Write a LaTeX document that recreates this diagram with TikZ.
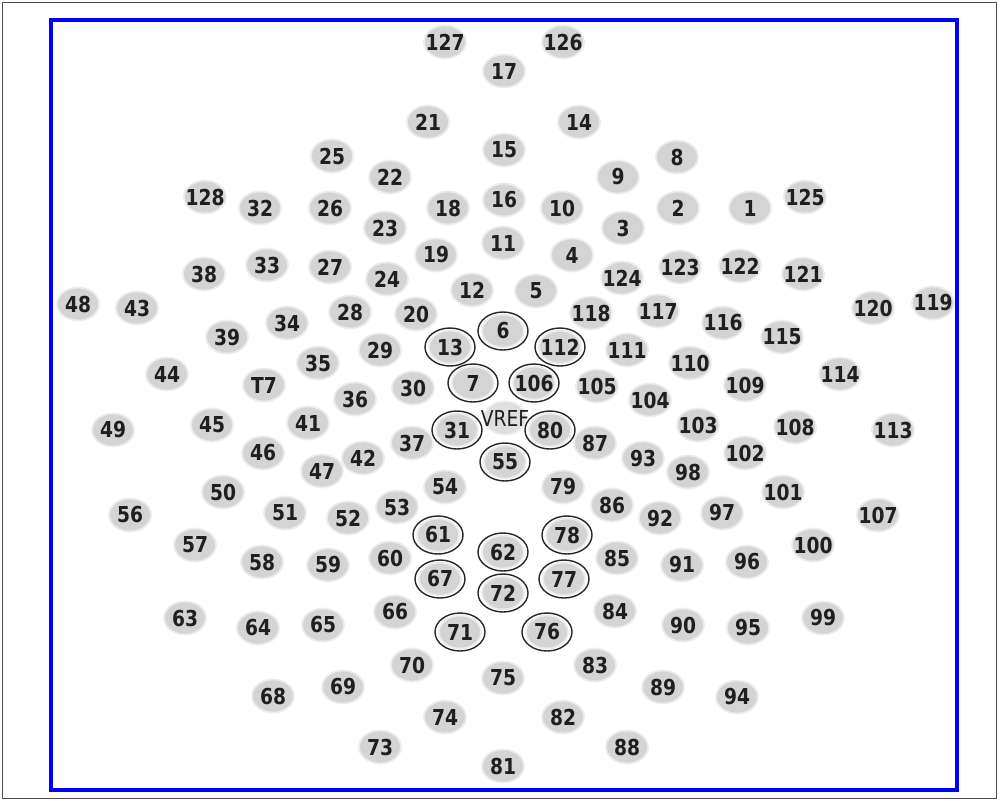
\documentclass[tikz,border=0pt]{standalone}
\usepackage{fontspec}
\usepackage{tikz}
\usetikzlibrary{shapes.geometric}
\newfontfamily\elfont[FakeStretch=0.85]{DejaVu Sans}
\definecolor{frameB}{RGB}{0,0,255}
\definecolor{elG}{RGB}{212,212,212}

\begin{document}
\begin{tikzpicture}[x=0.2mm,y=-0.2mm,
  elec/.style={ellipse,fill=elG,draw=elG!45,line width=1pt,minimum width=8.4mm,minimum height=6.6mm,inner sep=0pt,text=black!88,font=\elfont\bfseries\fontsize{12.5}{12.5}\selectfont},
  ring/.style={ellipse,draw=black!85,line width=0.8pt,minimum width=10mm,minimum height=7.6mm,inner sep=0pt}]
\useasboundingbox (0,0) rectangle (1001,800);
\draw[black!70,line width=0.2mm] (2,2) rectangle (996,798);
\draw[frameB,line width=0.9mm] (51,20) rectangle (957,790);
% electrodes, name/x/y in pixels of the net layout
\foreach \n/\x/\y in {127/445/42, 126/563/42, 17/504/71,
  21/428/122, 14/579/122, 25/332/156, 15/504/150, 8/677/157, 22/390/177, 9/618/177,
  128/205/197, 32/260/208, 26/330/208, 18/448/208, 16/504/200, 10/562/208, 2/678/208, 1/750/208, 125/805/197,
  23/385/228, 3/623/228, 11/503/243,
  38/204/274, 33/267/265, 27/330/267, 24/387/279, 19/436/255, 4/572/255, 124/622/278, 123/680/267, 122/740/266, 121/803/274,
  48/78/304, 43/137/308, 12/472/290, 5/536/291, 120/873/308, 119/933/303,
  28/350/312, 20/416/314, 118/591/313, 117/658/311, 116/723/323,
  39/227/337, 34/287/323, 6/503/331, 13/450/347, 112/560/347, 115/782/337, 29/380/350, 111/627/350,
  44/167/374, T7/264/385, 35/318/363, 7/473/383, 106/534/383, 105/597/386, 110/690/363, 109/745/385, 114/840/374,
  36/355/399, 30/413/388, 104/650/400,
  49/113/430, 45/212/425, 41/308/423, 37/412/443, 31/457/430, 80/550/430, 87/595/443, 103/698/425, 108/795/427, 113/893/430,
  46/263/453, 47/322/471, 42/363/458, 55/505/462, 93/643/458, 98/688/472, 102/745/453,
  50/223/492, 54/445/487, 79/563/487, 101/783/492,
  56/130/515, 51/285/513, 52/348/518, 53/397/507, 86/612/505, 92/660/518, 97/722/513, 107/878/515,
  57/195/545, 58/262/562, 59/328/565, 60/390/558, 61/438/535, 62/503/552, 78/567/535, 85/617/558, 91/682/565, 96/747/562, 100/813/545,
  63/185/618, 64/258/628, 65/323/625, 66/395/612, 67/440/579, 72/503/593, 77/564/579, 84/615/611, 90/683/625, 95/748/628, 99/823/618,
  71/460/632, 76/547/632,
  68/273/696, 69/343/687, 70/412/665, 75/503/678, 83/595/665, 89/663/687, 94/737/697,
  74/445/717, 82/563/717, 73/380/747, 88/627/747, 81/503/766}
  \node[elec] (e\n) at (\x,\y) {\makebox[0pt]{\n}};
\node[elec,fill=elG!75,font=\elfont\fontsize{12.5}{12.5}\selectfont] (eVREF) at (505,418) {\makebox[0pt]{VREF}};
% marked electrodes
\foreach \n in {6,13,112,7,106,31,80,55,61,62,78,67,72,77,71,76}
  \node[ring] (r\n) at (e\n) {};
\end{tikzpicture}
\end{document}
